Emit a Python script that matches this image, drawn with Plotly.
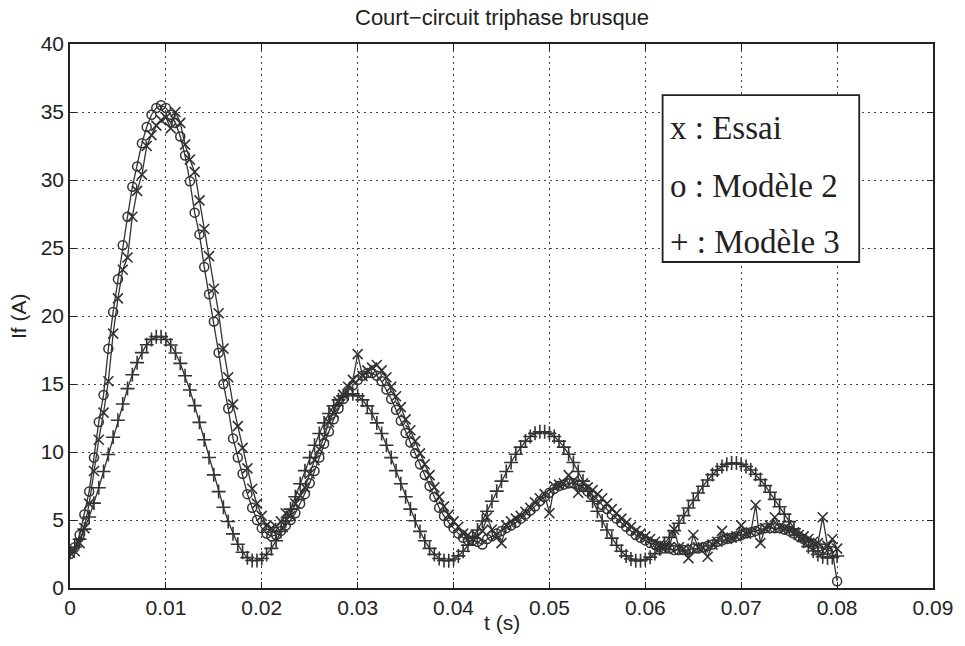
import plotly.graph_objects as go

# Sampling instants (s)
t = [round(i * 0.0005, 4) for i in range(161)]

# Field current If (A) - measured
essai = [
    2.6, 2.7, 3.3, 4.4, 6.2, 8.6, 10.9, 12.9, 15.2, 18.7,
    21.3, 23.4, 24.3, 27.3, 29.2, 30.4, 32.5, 33.3, 34.0, 34.4,
    34.6, 33.8, 35.0, 34.2, 32.6, 31.5, 30.6, 28.5, 26.4, 24.4,
    22.0, 20.2, 17.6, 15.5, 13.5, 11.9, 10.3, 8.8, 7.3, 6.2,
    5.3, 4.6, 4.4, 4.5, 4.9, 5.5, 5.3, 6.2, 6.8, 7.4,
    8.4, 9.4, 10.2, 11.1, 12.2, 12.9, 13.7, 14.2, 14.8, 15.3,
    17.2, 15.6, 16.0, 16.2, 16.4, 16.0, 15.5, 14.8, 14.1, 13.3,
    12.4, 11.6, 10.8, 9.9, 9.1, 8.3, 7.4, 6.7, 6.0, 5.4,
    4.9, 4.5, 4.0, 3.9, 3.6, 3.8, 4.2, 5.2, 4.3, 3.9,
    3.3, 4.6, 4.9, 5.1, 5.3, 5.6, 5.9, 6.3, 6.6, 6.9,
    5.5, 7.5, 7.6, 7.7, 8.3, 7.9, 7.0, 7.7, 7.4, 7.2,
    6.9, 6.6, 6.2, 5.8, 5.5, 5.1, 4.8, 4.5, 4.2, 4.0,
    3.8, 3.6, 3.4, 3.2, 3.1, 3.0, 4.3, 3.0, 2.9, 2.2,
    3.9, 3.0, 3.0, 2.3, 3.2, 3.4, 4.2, 3.6, 3.7, 3.8,
    4.6, 4.0, 4.1, 6.1, 3.3, 4.4, 4.6, 5.2, 4.5, 4.4,
    4.3, 4.1, 3.9, 3.8, 3.6, 3.4, 3.3, 5.2, 3.1, 3.6,
    2.9,
]

# Field current If (A) - model 2
modele2 = [
    2.5, 3.0, 3.9, 5.4, 7.1, 9.6, 12.2, 14.2, 17.6, 20.3,
    22.7, 25.2, 27.3, 29.5, 31.0, 32.7, 33.9, 34.8, 35.3, 35.5,
    35.3, 34.8, 34.2, 33.2, 31.8, 29.9, 27.6, 26.0, 23.6, 21.6,
    19.6, 17.3, 15.0, 13.2, 11.0, 9.6, 8.4, 6.9, 5.9, 5.0,
    4.4, 4.0, 3.8, 3.9, 4.2, 4.6, 5.0, 5.5, 6.2, 6.9,
    7.7, 8.6, 9.6, 10.6, 11.5, 12.4, 13.2, 13.9, 14.5, 14.9,
    15.3, 15.6, 15.8, 15.8, 15.6, 15.2, 14.6, 13.9, 13.1, 12.3,
    11.4, 10.7, 9.9, 9.1, 8.3, 7.5, 6.7, 5.9, 5.3, 4.8,
    4.4, 4.0, 3.7, 3.5, 3.5, 3.4, 3.2, 3.6, 3.8, 4.0,
    4.2, 4.4, 4.6, 4.8, 5.1, 5.4, 5.7, 6.0, 6.4, 6.7,
    7.0, 7.3, 7.5, 7.6, 7.7, 7.7, 7.6, 7.4, 7.1, 6.8,
    6.5, 6.1, 5.8, 5.4, 5.1, 4.8, 4.5, 4.2, 3.9, 3.7,
    3.5, 3.3, 3.2, 3.0, 2.9, 2.9, 2.8, 2.8, 2.8, 2.8,
    2.9, 2.9, 3.0, 3.1, 3.2, 3.4, 3.5, 3.6, 3.7, 3.8,
    3.9, 4.0, 4.1, 4.2, 4.3, 4.4, 4.4, 4.4, 4.4, 4.3,
    4.2, 4.0, 3.8, 3.6, 3.4, 3.2, 3.0, 2.9, 2.8, 2.7,
    0.5,
]

# Field current If (A) - model 3
modele3 = [
    2.62, 3.01, 3.59, 4.33, 5.22, 6.24, 7.37, 8.57, 9.82, 11.08,
    12.33, 13.53, 14.66, 15.68, 16.57, 17.31, 17.89, 18.28, 18.48, 18.48,
    18.27, 17.87, 17.28, 16.52, 15.61, 14.56, 13.41, 12.18, 10.90, 9.60,
    8.32, 7.09, 5.94, 4.89, 3.98, 3.22, 2.63, 2.23, 2.02, 2.02,
    2.17, 2.47, 2.91, 3.47, 4.16, 4.94, 5.80, 6.71, 7.67, 8.63,
    9.59, 10.50, 11.36, 12.14, 12.83, 13.39, 13.83, 14.13, 14.28, 14.28,
    14.13, 13.83, 13.39, 12.83, 12.14, 11.36, 10.50, 9.59, 8.63, 7.67,
    6.71, 5.80, 4.94, 4.16, 3.47, 2.91, 2.47, 2.17, 2.02, 2.01,
    2.13, 2.36, 2.70, 3.14, 3.67, 4.27, 4.93, 5.64, 6.38, 7.12,
    7.86, 8.57, 9.23, 9.83, 10.36, 10.80, 11.14, 11.37, 11.49, 11.49,
    11.37, 11.14, 10.80, 10.36, 9.83, 9.23, 8.57, 7.86, 7.12, 6.38,
    5.64, 4.93, 4.27, 3.67, 3.14, 2.70, 2.36, 2.13, 2.01, 2.01,
    2.10, 2.27, 2.53, 2.86, 3.26, 3.72, 4.22, 4.76, 5.32, 5.88,
    6.44, 6.98, 7.48, 7.94, 8.34, 8.67, 8.93, 9.10, 9.19, 9.19,
    9.10, 8.93, 8.68, 8.36, 7.97, 7.53, 7.04, 6.52, 5.97, 5.43,
    4.88, 4.36, 3.87, 3.43, 3.04, 2.72, 2.47, 2.30, 2.21, 2.25,
    2.35,
]

x_ticks = [0, 0.01, 0.02, 0.03, 0.04, 0.05, 0.06, 0.07, 0.08, 0.09]
x_labels = ["0", "0.01", "0.02", "0.03", "0.04", "0.05", "0.06", "0.07", "0.08", "0.09"]
y_ticks = [0, 5, 10, 15, 20, 25, 30, 35, 40]
y_labels = ["0", "5", "10", "15", "20", "25", "30", "35", "40"]

legend_lines = ["x : Essai", "o : Modèle 2", "+ : Modèle 3"]

INK = "#333333"
SANS = "Liberation Sans, Arial, sans-serif"
SERIF = "Liberation Serif, Times New Roman, serif"

fig = go.Figure()

fig.add_trace(go.Scatter(
    x=t, y=modele3, mode="lines+markers", name="Modèle 3",
    line=dict(color=INK, width=1.3),
    marker=dict(symbol="cross-thin", size=10, line=dict(color=INK, width=1.6)),
))
fig.add_trace(go.Scatter(
    x=t, y=modele2, mode="lines+markers", name="Modèle 2",
    line=dict(color=INK, width=1.3),
    marker=dict(symbol="circle-open", size=9, color=INK, line=dict(color=INK, width=1.5)),
))
fig.add_trace(go.Scatter(
    x=t, y=essai, mode="lines+markers", name="Essai",
    line=dict(color=INK, width=1.3),
    marker=dict(symbol="x-thin", size=10, line=dict(color=INK, width=1.6)),
))

axis_common = dict(
    showline=True, linecolor="#222", linewidth=1.6, mirror="ticks",
    ticks="inside", ticklen=6, tickcolor="#222", tickwidth=1.2,
    showgrid=True, gridcolor="#444", gridwidth=1.2, griddash="2px,4px",
    zeroline=False, tickfont=dict(family=SANS, size=21, color="#222"),
)

fig.update_xaxes(range=[0, 0.09], tickvals=x_ticks, ticktext=x_labels, **axis_common)
fig.update_yaxes(range=[0, 40], tickvals=y_ticks, ticktext=y_labels, **axis_common)

# Legend box drawn as a framed text block
fig.add_shape(type="rect", xref="paper", yref="paper",
              x0=0.6867, x1=0.9145, y0=0.5993, y1=0.9062,
              line=dict(color="#222", width=1.8), fillcolor="white", layer="above")
for txt, ypos in zip(legend_lines, [0.8456, 0.7390, 0.6360]):
    fig.add_annotation(text=txt, xref="paper", yref="paper", x=0.6925, y=ypos,
                       xanchor="left", yanchor="middle", showarrow=False,
                       font=dict(family=SERIF, size=33, color="#222"))

# Axis titles and figure title
fig.add_annotation(text="Court\u2212circuit triphase brusque", xref="paper", yref="paper",
                   x=0.5, y=1.0, yshift=27, xanchor="center", yanchor="middle",
                   showarrow=False, font=dict(family=SANS, size=22, color="#222"))
fig.add_annotation(text="t (s)", xref="paper", yref="paper",
                   x=0.5, y=0, yshift=-34, xanchor="center", yanchor="middle",
                   showarrow=False, font=dict(family=SANS, size=21, color="#222"))
fig.add_annotation(text="If (A)", xref="paper", yref="paper",
                   x=0, xshift=-52, y=0.5, textangle=-90, xanchor="center", yanchor="middle",
                   showarrow=False, font=dict(family=SANS, size=21, color="#222"))

fig.update_layout(
    width=965, height=646,
    margin=dict(l=70, r=30, t=44, b=58),
    paper_bgcolor="white", plot_bgcolor="white",
    showlegend=False,
)

fig.write_html("out.html")
